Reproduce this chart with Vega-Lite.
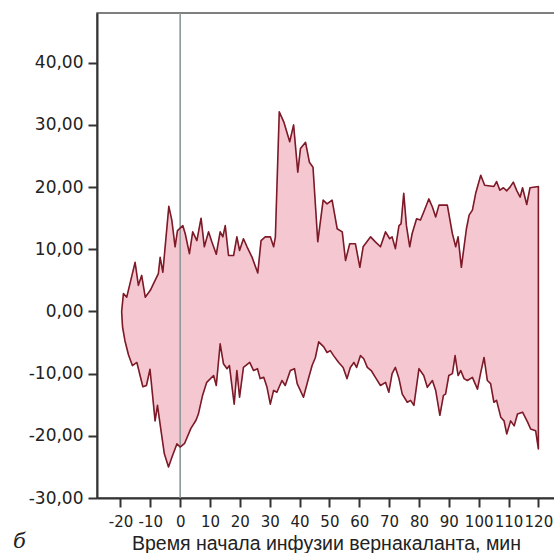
{
  "$schema": "https://vega.github.io/schema/vega-lite/v6.json",
  "autosize": "none",
  "width": 458,
  "height": 485,
  "padding": {"left": 97, "top": 13, "right": 0, "bottom": 55},
  "background": "white",
  "title": {"text": "б", "orient": "bottom", "anchor": "start", "frame": "group", "dx": -84, "offset": -22, "font": "DejaVu Serif", "fontStyle": "italic", "fontWeight": "normal", "fontSize": 21, "color": "#222"},
  "config": {
    "view": {"stroke": "#555", "strokeWidth": 1.5},
    "axis": {"grid": false, "domainColor": "#333", "domainWidth": 2, "tickColor": "#333", "tickWidth": 2, "tickSize": 9, "labelFont": "DejaVu Sans", "labelColor": "#222", "titleFont": "Liberation Sans", "titleColor": "#222", "titleFontWeight": "normal"}
  },
  "data": {"values": [
    {"t": 0, "v": null, "s": "r"},
    {"t": -19.6, "v": 0, "s": "u"},
    {"t": -19.0, "v": 2.9, "s": "u"},
    {"t": -17.9, "v": 2.3, "s": "u"},
    {"t": -15.1, "v": 7.9, "s": "u"},
    {"t": -14.0, "v": 4.2, "s": "u"},
    {"t": -12.9, "v": 5.8, "s": "u"},
    {"t": -11.7, "v": 2.3, "s": "u"},
    {"t": -10.0, "v": 3.4, "s": "u"},
    {"t": -8.4, "v": 5.0, "s": "u"},
    {"t": -7.3, "v": 6.1, "s": "u"},
    {"t": -6.7, "v": 8.7, "s": "u"},
    {"t": -5.8, "v": 6.3, "s": "u"},
    {"t": -3.8, "v": 16.9, "s": "u"},
    {"t": -2.8, "v": 14.7, "s": "u"},
    {"t": -1.7, "v": 10.4, "s": "u"},
    {"t": -0.9, "v": 13.0, "s": "u"},
    {"t": 0.9, "v": 13.8, "s": "u"},
    {"t": 1.7, "v": 12.5, "s": "u"},
    {"t": 3.1, "v": 9.3, "s": "u"},
    {"t": 4.2, "v": 12.8, "s": "u"},
    {"t": 5.6, "v": 11.4, "s": "u"},
    {"t": 7.0, "v": 15.0, "s": "u"},
    {"t": 8.1, "v": 10.4, "s": "u"},
    {"t": 9.5, "v": 12.8, "s": "u"},
    {"t": 10.6, "v": 11.2, "s": "u"},
    {"t": 12.1, "v": 9.2, "s": "u"},
    {"t": 13.4, "v": 12.8, "s": "u"},
    {"t": 14.3, "v": 12.0, "s": "u"},
    {"t": 15.1, "v": 13.8, "s": "u"},
    {"t": 16.2, "v": 9.0, "s": "u"},
    {"t": 17.9, "v": 9.0, "s": "u"},
    {"t": 19.0, "v": 12.0, "s": "u"},
    {"t": 19.9, "v": 9.8, "s": "u"},
    {"t": 21.2, "v": 11.7, "s": "u"},
    {"t": 22.4, "v": 10.4, "s": "u"},
    {"t": 24.1, "v": 8.7, "s": "u"},
    {"t": 26.0, "v": 6.2, "s": "u"},
    {"t": 27.1, "v": 11.4, "s": "u"},
    {"t": 28.5, "v": 12.0, "s": "u"},
    {"t": 30.2, "v": 12.0, "s": "u"},
    {"t": 31.3, "v": 10.4, "s": "u"},
    {"t": 31.9, "v": 12.0, "s": "u"},
    {"t": 33.2, "v": 32.1, "s": "u"},
    {"t": 34.7, "v": 30.5, "s": "u"},
    {"t": 36.7, "v": 27.3, "s": "u"},
    {"t": 38.0, "v": 30.0, "s": "u"},
    {"t": 39.4, "v": 22.4, "s": "u"},
    {"t": 40.3, "v": 26.2, "s": "u"},
    {"t": 42.0, "v": 27.2, "s": "u"},
    {"t": 43.3, "v": 24.0, "s": "u"},
    {"t": 44.5, "v": 23.2, "s": "u"},
    {"t": 46.1, "v": 11.2, "s": "u"},
    {"t": 47.9, "v": 17.9, "s": "u"},
    {"t": 49.2, "v": 17.3, "s": "u"},
    {"t": 50.9, "v": 17.9, "s": "u"},
    {"t": 52.6, "v": 13.3, "s": "u"},
    {"t": 54.3, "v": 12.8, "s": "u"},
    {"t": 55.4, "v": 8.2, "s": "u"},
    {"t": 56.8, "v": 10.9, "s": "u"},
    {"t": 58.7, "v": 10.9, "s": "u"},
    {"t": 60.2, "v": 7.1, "s": "u"},
    {"t": 61.3, "v": 10.4, "s": "u"},
    {"t": 63.8, "v": 12.0, "s": "u"},
    {"t": 65.4, "v": 11.2, "s": "u"},
    {"t": 67.1, "v": 10.4, "s": "u"},
    {"t": 68.8, "v": 12.8, "s": "u"},
    {"t": 70.2, "v": 11.7, "s": "u"},
    {"t": 71.0, "v": 12.0, "s": "u"},
    {"t": 72.1, "v": 10.1, "s": "u"},
    {"t": 73.3, "v": 13.8, "s": "u"},
    {"t": 74.0, "v": 14.1, "s": "u"},
    {"t": 74.9, "v": 19.0, "s": "u"},
    {"t": 75.8, "v": 13.8, "s": "u"},
    {"t": 76.9, "v": 10.4, "s": "u"},
    {"t": 77.7, "v": 12.5, "s": "u"},
    {"t": 79.2, "v": 14.9, "s": "u"},
    {"t": 80.5, "v": 14.7, "s": "u"},
    {"t": 81.6, "v": 16.0, "s": "u"},
    {"t": 83.3, "v": 18.1, "s": "u"},
    {"t": 84.5, "v": 16.8, "s": "u"},
    {"t": 85.6, "v": 15.2, "s": "u"},
    {"t": 86.7, "v": 17.1, "s": "u"},
    {"t": 89.5, "v": 17.1, "s": "u"},
    {"t": 91.2, "v": 12.5, "s": "u"},
    {"t": 92.3, "v": 10.4, "s": "u"},
    {"t": 93.1, "v": 12.0, "s": "u"},
    {"t": 94.2, "v": 7.1, "s": "u"},
    {"t": 95.9, "v": 13.3, "s": "u"},
    {"t": 96.8, "v": 15.5, "s": "u"},
    {"t": 97.9, "v": 16.3, "s": "u"},
    {"t": 99.0, "v": 19.0, "s": "u"},
    {"t": 100.7, "v": 21.9, "s": "u"},
    {"t": 102.0, "v": 20.3, "s": "u"},
    {"t": 105.1, "v": 20.1, "s": "u"},
    {"t": 106.0, "v": 20.9, "s": "u"},
    {"t": 107.1, "v": 19.5, "s": "u"},
    {"t": 108.3, "v": 19.9, "s": "u"},
    {"t": 109.4, "v": 19.4, "s": "u"},
    {"t": 110.5, "v": 20.0, "s": "u"},
    {"t": 111.6, "v": 20.8, "s": "u"},
    {"t": 112.8, "v": 19.4, "s": "u"},
    {"t": 113.9, "v": 18.4, "s": "u"},
    {"t": 114.7, "v": 19.9, "s": "u"},
    {"t": 116.1, "v": 17.2, "s": "u"},
    {"t": 117.2, "v": 19.9, "s": "u"},
    {"t": 120.0, "v": 20.1, "s": "u"},
    {"t": 120.0, "v": -22.1, "s": "l"},
    {"t": 119.1, "v": -19.2, "s": "l"},
    {"t": 117.4, "v": -18.9, "s": "l"},
    {"t": 116.4, "v": -17.8, "s": "l"},
    {"t": 114.7, "v": -16.2, "s": "l"},
    {"t": 113.0, "v": -16.5, "s": "l"},
    {"t": 111.9, "v": -18.4, "s": "l"},
    {"t": 110.7, "v": -17.6, "s": "l"},
    {"t": 109.4, "v": -19.7, "s": "l"},
    {"t": 108.5, "v": -17.6, "s": "l"},
    {"t": 107.4, "v": -17.0, "s": "l"},
    {"t": 106.0, "v": -14.3, "s": "l"},
    {"t": 105.1, "v": -14.6, "s": "l"},
    {"t": 104.0, "v": -11.6, "s": "l"},
    {"t": 102.9, "v": -11.1, "s": "l"},
    {"t": 101.8, "v": -7.4, "s": "l"},
    {"t": 100.7, "v": -9.8, "s": "l"},
    {"t": 99.6, "v": -12.5, "s": "l"},
    {"t": 97.9, "v": -10.6, "s": "l"},
    {"t": 96.2, "v": -11.1, "s": "l"},
    {"t": 95.1, "v": -10.8, "s": "l"},
    {"t": 94.0, "v": -9.5, "s": "l"},
    {"t": 93.1, "v": -10.3, "s": "l"},
    {"t": 92.1, "v": -7.1, "s": "l"},
    {"t": 91.2, "v": -10.0, "s": "l"},
    {"t": 90.0, "v": -10.3, "s": "l"},
    {"t": 88.9, "v": -13.3, "s": "l"},
    {"t": 88.2, "v": -13.5, "s": "l"},
    {"t": 87.0, "v": -16.7, "s": "l"},
    {"t": 85.6, "v": -12.7, "s": "l"},
    {"t": 84.5, "v": -11.1, "s": "l"},
    {"t": 82.8, "v": -12.2, "s": "l"},
    {"t": 81.6, "v": -10.3, "s": "l"},
    {"t": 80.0, "v": -9.2, "s": "l"},
    {"t": 78.3, "v": -15.1, "s": "l"},
    {"t": 77.2, "v": -14.3, "s": "l"},
    {"t": 76.1, "v": -14.6, "s": "l"},
    {"t": 74.4, "v": -13.3, "s": "l"},
    {"t": 73.3, "v": -10.8, "s": "l"},
    {"t": 72.1, "v": -9.0, "s": "l"},
    {"t": 71.0, "v": -10.0, "s": "l"},
    {"t": 69.9, "v": -13.0, "s": "l"},
    {"t": 68.8, "v": -11.4, "s": "l"},
    {"t": 67.1, "v": -11.9, "s": "l"},
    {"t": 65.4, "v": -10.6, "s": "l"},
    {"t": 64.0, "v": -9.5, "s": "l"},
    {"t": 62.7, "v": -9.0, "s": "l"},
    {"t": 61.5, "v": -7.6, "s": "l"},
    {"t": 60.4, "v": -7.1, "s": "l"},
    {"t": 59.1, "v": -9.0, "s": "l"},
    {"t": 58.2, "v": -8.2, "s": "l"},
    {"t": 57.0, "v": -9.0, "s": "l"},
    {"t": 55.9, "v": -10.8, "s": "l"},
    {"t": 54.6, "v": -9.0, "s": "l"},
    {"t": 53.1, "v": -8.2, "s": "l"},
    {"t": 51.4, "v": -7.1, "s": "l"},
    {"t": 50.3, "v": -6.3, "s": "l"},
    {"t": 49.2, "v": -6.6, "s": "l"},
    {"t": 48.1, "v": -5.7, "s": "l"},
    {"t": 46.4, "v": -4.9, "s": "l"},
    {"t": 45.3, "v": -7.4, "s": "l"},
    {"t": 44.2, "v": -8.7, "s": "l"},
    {"t": 42.8, "v": -11.1, "s": "l"},
    {"t": 41.3, "v": -13.8, "s": "l"},
    {"t": 39.2, "v": -11.6, "s": "l"},
    {"t": 38.3, "v": -9.2, "s": "l"},
    {"t": 36.9, "v": -9.5, "s": "l"},
    {"t": 35.2, "v": -11.9, "s": "l"},
    {"t": 34.1, "v": -11.1, "s": "l"},
    {"t": 32.4, "v": -13.0, "s": "l"},
    {"t": 31.3, "v": -12.7, "s": "l"},
    {"t": 30.2, "v": -14.9, "s": "l"},
    {"t": 29.1, "v": -12.2, "s": "l"},
    {"t": 28.0, "v": -10.6, "s": "l"},
    {"t": 26.8, "v": -10.8, "s": "l"},
    {"t": 25.9, "v": -9.2, "s": "l"},
    {"t": 24.6, "v": -9.5, "s": "l"},
    {"t": 23.3, "v": -8.2, "s": "l"},
    {"t": 21.2, "v": -9.0, "s": "l"},
    {"t": 19.9, "v": -13.8, "s": "l"},
    {"t": 19.0, "v": -9.5, "s": "l"},
    {"t": 18.1, "v": -14.9, "s": "l"},
    {"t": 16.5, "v": -8.7, "s": "l"},
    {"t": 15.7, "v": -9.2, "s": "l"},
    {"t": 14.5, "v": -8.4, "s": "l"},
    {"t": 13.4, "v": -5.2, "s": "l"},
    {"t": 12.1, "v": -11.9, "s": "l"},
    {"t": 11.2, "v": -10.3, "s": "l"},
    {"t": 8.9, "v": -11.4, "s": "l"},
    {"t": 7.5, "v": -13.5, "s": "l"},
    {"t": 6.1, "v": -16.5, "s": "l"},
    {"t": 5.3, "v": -17.5, "s": "l"},
    {"t": 3.6, "v": -18.8, "s": "l"},
    {"t": 1.5, "v": -21.2, "s": "l"},
    {"t": 0.0, "v": -21.8, "s": "l"},
    {"t": -1.1, "v": -21.3, "s": "l"},
    {"t": -2.8, "v": -23.5, "s": "l"},
    {"t": -3.9, "v": -25.0, "s": "l"},
    {"t": -5.3, "v": -22.9, "s": "l"},
    {"t": -6.5, "v": -18.9, "s": "l"},
    {"t": -7.6, "v": -15.1, "s": "l"},
    {"t": -8.4, "v": -17.6, "s": "l"},
    {"t": -10.1, "v": -9.3, "s": "l"},
    {"t": -11.3, "v": -11.9, "s": "l"},
    {"t": -12.5, "v": -12.1, "s": "l"},
    {"t": -14.5, "v": -8.2, "s": "l"},
    {"t": -16.0, "v": -8.7, "s": "l"},
    {"t": -17.3, "v": -7.0, "s": "l"},
    {"t": -18.5, "v": -4.7, "s": "l"},
    {"t": -19.3, "v": -2.5, "s": "l"},
    {"t": -19.6, "v": 0, "s": "l"}
  ]},
  "encoding": {
    "x": {"field": "t", "type": "quantitative", "scale": {"domain": [-27.86, 125.57], "nice": false, "zero": false},
      "axis": {"values": [-20, -10, 0, 10, 20, 30, 40, 50, 60, 70, 80, 90, 100, 110, 120], "labelFontSize": 15, "labelPadding": 7, "labelFlush": false, "labelOverlap": false, "labelExpr": "datum.value < 0 ? '-' + abs(datum.value) : '' + datum.value", "title": "Время начала инфузии вернакаланта, мин", "titleFontSize": 19.5, "titlePadding": 5}},
    "y": {"field": "v", "type": "quantitative", "scale": {"domain": [-30, 48], "nice": false},
      "axis": {"values": [-30, -20, -10, 0, 10, 20, 30, 40], "labelFontSize": 17, "labelPadding": 5, "labelFlush": false, "labelOverlap": false, "labelExpr": "replace(replace(format(datum.value, '.2f'), '.', ','), '−', '-')", "title": null}}
  },
  "layer": [
    {"transform": [{"filter": "datum.s == 'u'"}], "mark": {"type": "area", "color": "#f4c7d1", "stroke": "#f4c7d1", "strokeWidth": 1, "opacity": 1}, "encoding": {"y2": {"datum": 0}}},
    {"transform": [{"filter": "datum.s == 'l'"}], "mark": {"type": "area", "color": "#f4c7d1", "stroke": "#f4c7d1", "strokeWidth": 1, "opacity": 1}, "encoding": {"y2": {"datum": 0}}},
    {"transform": [{"filter": "datum.s == 'r'"}], "mark": {"type": "rule", "color": "#8a9a98", "strokeWidth": 1.6},
      "encoding": {"y": null}},
    {"transform": [{"filter": "datum.s != 'r'"}], "mark": {"type": "line", "color": "#7d1a28", "strokeWidth": 1.6, "strokeJoin": "round"}, "encoding": {"order": {"value": null}}}
  ]
}
